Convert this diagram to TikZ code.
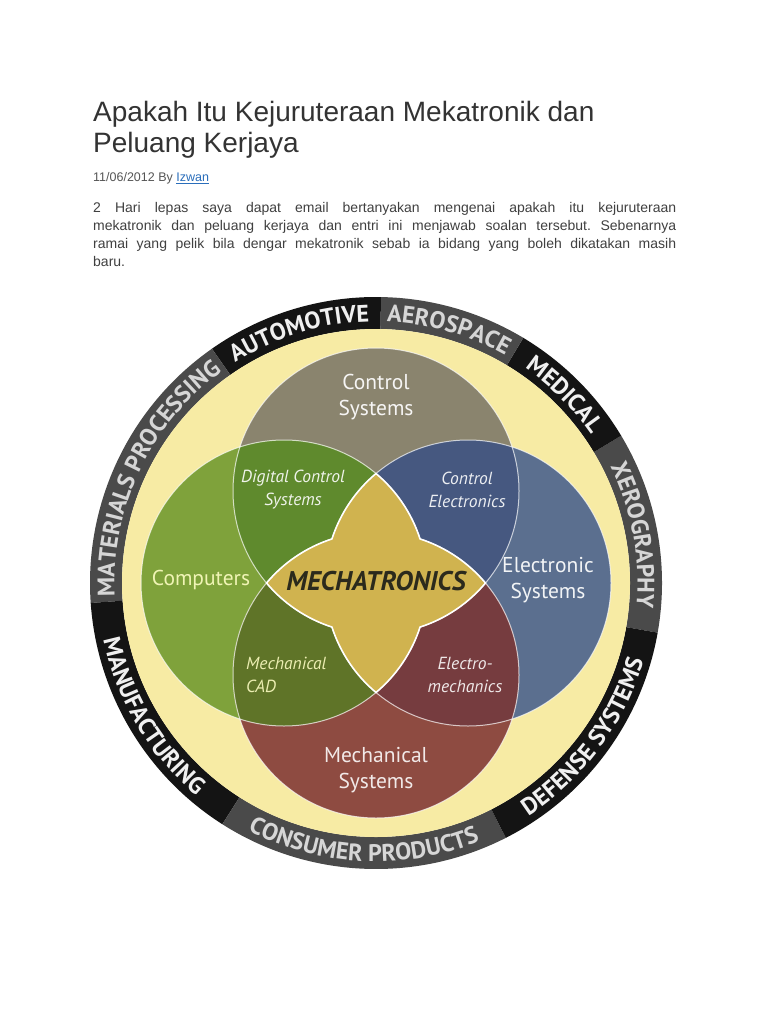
\documentclass[tikz,border=0pt]{standalone}
\usepackage{fontspec}
\setmainfont{Liberation Sans}
\newfontfamily\diagfont{PT Sans}
\usepackage{xcolor}
\definecolor{cTitle}{HTML}{333333}
\definecolor{cBody}{HTML}{404040}
\definecolor{cMeta}{HTML}{555555}
\definecolor{cLink}{HTML}{2A6EBB}
\definecolor{cRingBlack}{HTML}{141414}
\definecolor{cRingGray}{HTML}{4A4A4A}
\definecolor{cRingText}{HTML}{F0F0F0}
\definecolor{cRingTextGray}{HTML}{D6D6D6}
\definecolor{cCream}{HTML}{F7EBA4}
\definecolor{cCtrl}{HTML}{8A846E}
\definecolor{cComp}{HTML}{7FA23B}
\definecolor{cElec}{HTML}{5B6F8F}
\definecolor{cMech}{HTML}{8E4B41}
\definecolor{cDigital}{HTML}{5F8A2D}
\definecolor{cCtrlEl}{HTML}{465880}
\definecolor{cElMech}{HTML}{763C3F}
\definecolor{cMechCad}{HTML}{5F7428}
\definecolor{cStar}{HTML}{D0B34F}
\definecolor{cStarText}{HTML}{2B2A1C}
\usepackage{tikz}
\usetikzlibrary{decorations.text}
\frenchspacing
\newcommand\ringfont{\diagfont\bfseries\fontsize{24}{24}\selectfont}
\tikzset{
  page-title/.style={anchor=base west,inner sep=0pt,text=cTitle,
    font=\fontsize{28}{34}\selectfont},
  page-meta/.style={anchor=base west,inner sep=0pt,text=cMeta,
    font=\fontsize{12.5}{15}\selectfont},
  page-body/.style={anchor=base west,inner sep=0pt,text=cBody,
    font=\fontsize{14}{18}\selectfont},
  venn-label/.style={align=center,inner sep=0pt,
    font=\diagfont\fontsize{21.5}{26.5}\selectfont},
  venn-italic/.style={align=center,inner sep=0pt,
    font=\diagfont\itshape\fontsize{17.5}{23}\selectfont},
  venn-core/.style={inner sep=0pt,text=cStarText,
    font=\diagfont\bfseries\itshape\fontsize{27}{30}\selectfont},
  venn-edge/.style={draw=white,draw opacity=0.7,line width=1pt},
  star-fill/.style={fill=cStar,draw=white,line width=1.6pt,line join=round},
  % ring labels: top half runs clockwise, bottom half counter-clockwise
  ring-top/.style 2 args={decorate,decoration={text along path,
    text align=center,text={|\ringfont\color{#2}|#1}}},
  ring-bottom/.style 2 args={decorate,decoration={text along path,
    text align=center,text={|\ringfont\color{#2}|#1}}},
}
\begin{document}
\begin{tikzpicture}[x=1pt,y=-1pt]
  \fill[white] (0,0) rectangle (768,1024);
  \useasboundingbox (0,0) rectangle (768,1024);

  \node[page-title] (title1) at (93,122) {Apakah Itu Kejuruteraan Mekatronik dan};
  \node[page-title] (title2) at (93,153) {Peluang Kerjaya};
  \node[page-meta] (meta) at (93,182) {11/06/2012 By \textcolor{cLink}{\underline{Izwan}}};
  \node[page-body] (body1) at (93,212.5) {\makebox[583pt][s]{2 Hari lepas saya dapat email bertanyakan mengenai apakah itu kejuruteraan}};
  \node[page-body] (body2) at (93,230.5) {\makebox[583pt][s]{mekatronik dan peluang kerjaya dan entri ini menjawab soalan tersebut. Sebenarnya}};
  \node[page-body] (body3) at (93,248.5) {\makebox[583pt][s]{ramai yang pelik bila dengar mekatronik sebab ia bidang yang boleh dikatakan masih}};
  \node[page-body] (body4) at (93,266.5) {baru.};

  \begin{scope}[shift={(376,583)},y=1pt]
    \foreach \a/\b/\c in {-10/31/cRingGray,31/59/cRingBlack,59/89/cRingGray,
        89/125/cRingBlack,125/184/cRingGray,184/237.5/cRingBlack,
        237.5/297/cRingGray,297/350/cRingBlack}
      \fill[\c] (\a:254) arc[start angle=\a,end angle=\b,radius=254]
        -- (\b:286) arc[start angle=\b,end angle=\a,radius=286] -- cycle;

    \path[ring-top={XEROGRAPHY}{cRingTextGray}] (31:261.5) arc[start angle=31,end angle=-10,radius=261.5];
    \path[ring-top={MEDICAL}{cRingText}] (59:261.5) arc[start angle=59,end angle=31,radius=261.5];
    \path[ring-top={AEROSPACE}{cRingTextGray}] (89:261.5) arc[start angle=89,end angle=59,radius=261.5];
    \path[ring-top={AUTOMOTIVE}{cRingText}] (125:261.5) arc[start angle=125,end angle=89,radius=261.5];
    \path[ring-top={MATERIALS PROCESSING}{cRingTextGray}] (184:261.5) arc[start angle=184,end angle=125,radius=261.5];
    \path[ring-bottom={MANUFACTURING}{cRingText}] (184:278.5) arc[start angle=184,end angle=237.5,radius=278.5];
    \path[ring-bottom={CONSUMER PRODUCTS}{cRingTextGray}] (237.5:278.5) arc[start angle=237.5,end angle=297,radius=278.5];
    \path[ring-bottom={DEFENSE SYSTEMS}{cRingText}] (297:278.5) arc[start angle=297,end angle=350,radius=278.5];

    \fill[cCream] (0,0) circle[radius=254];

    \coordinate (ctrl) at (0,92);
    \coordinate (comp) at (-92,0);
    \coordinate (elec) at (92,0);
    \coordinate (mech) at (0,-92);
    \fill[cCtrl] (ctrl) circle[radius=143];
    \fill[cComp] (comp) circle[radius=143];
    \fill[cElec] (elec) circle[radius=143];
    \fill[cMech] (mech) circle[radius=143];
    \begin{scope}
      \clip (ctrl) circle[radius=143];
      \fill[cDigital] (comp) circle[radius=143];
      \fill[cCtrlEl] (elec) circle[radius=143];
    \end{scope}
    \begin{scope}
      \clip (mech) circle[radius=143];
      \fill[cMechCad] (comp) circle[radius=143];
      \fill[cElMech] (elec) circle[radius=143];
    \end{scope}
    \foreach \c in {ctrl,comp,elec,mech}
      \draw[venn-edge] (\c) circle[radius=143];

    \draw[star-fill] (0,109.48)
      arc[start angle=130.04,end angle=162.06,radius=143]
      arc[start angle=107.94,end angle=139.96,radius=143]
      arc[start angle=220.04,end angle=252.06,radius=143]
      arc[start angle=197.94,end angle=229.96,radius=143]
      arc[start angle=310.04,end angle=342.06,radius=143]
      arc[start angle=287.94,end angle=319.96,radius=143]
      arc[start angle=40.04,end angle=72.06,radius=143]
      arc[start angle=17.94,end angle=49.96,radius=143] -- cycle;

    \node[venn-label,text=white!92!cCtrl] (lctrl) at (0,186) {Control\\Systems};
    \node[venn-label,text=white!85!cComp!80!yellow] (lcomp) at (-175,3) {Computers};
    \node[venn-label,text=white!92!cElec] (lelec) at (172,3) {Electronic\\Systems};
    \node[venn-label,text=white!88!cMech] (lmech) at (0,-187) {Mechanical\\Systems};
    \node[venn-italic,text=white!90!cDigital] (ldig) at (-83,93) {Digital Control\\Systems};
    \node[venn-italic,text=white!90!cCtrlEl] (lcel) at (91,93) {Control\\Electronics};
    \node[venn-italic,text=white!85!cMechCad!80!yellow,anchor=west,align=left] (lcad) at (-130,-92) {Mechanical\\CAD};
    \node[venn-italic,text=white!88!cElMech] (lelm) at (89,-92) {Electro-\\mechanics};
    \node[venn-core] (core) at (0,2) {MECHATRONICS};
  \end{scope}
\end{tikzpicture}
\end{document}
